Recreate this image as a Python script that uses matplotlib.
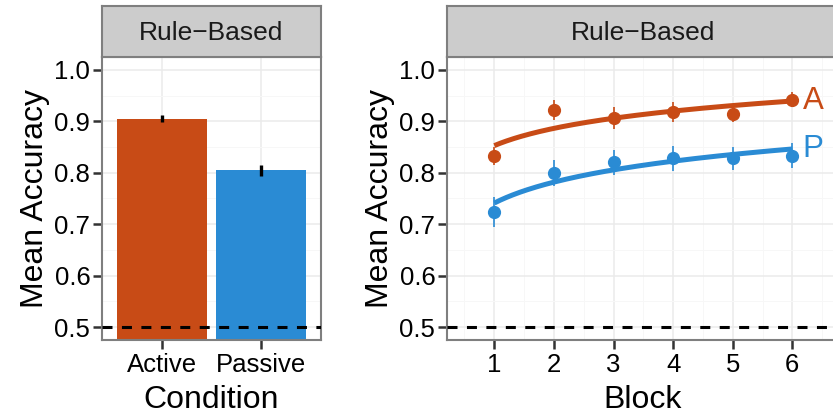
import numpy as np
import matplotlib
matplotlib.use('Agg')
import matplotlib.pyplot as plt
from matplotlib.ticker import FixedLocator, FormatStrFormatter

plt.rcParams['font.family'] = ['Liberation Sans', 'DejaVu Sans']
plt.rcParams['lines.scale_dashes'] = False

# ---------------- data ----------------
conditions = ['Active', 'Passive']
cond_mean = [0.905, 0.805]
cond_se = [0.007, 0.011]

blocks = [1, 2, 3, 4, 5, 6]
active_acc = [0.833, 0.922, 0.906, 0.918, 0.914, 0.942]
active_se = [0.017, 0.019, 0.021, 0.020, 0.015, 0.015]
passive_acc = [0.724, 0.800, 0.820, 0.828, 0.828, 0.833]
passive_se = [0.029, 0.025, 0.025, 0.025, 0.022, 0.024]
series_labels = ['A', 'P']

strip_title = 'Rule\u2212Based'
y_ticks = [0.5, 0.6, 0.7, 0.8, 0.9, 1.0]
y_minor = [0.55, 0.65, 0.75, 0.85, 0.95]
chance = 0.5

# ---------------- style ----------------
ORANGE = '#C84B16'
BLUE = '#2A8BD4'
BORDER = '#7F7F7F'
GRID_MAJ = '#EBEBEB'
GRID_MIN = '#F7F7F7'
TICK_SIZE = 18.5
STRIP_SIZE = 19
TITLE_SIZE = 23

W, H = 833, 415
fig = plt.figure(figsize=(W / 100, H / 100), dpi=100)


def px_axes(x0, y0, x1, y1):
    return fig.add_axes([x0 / W, 1 - y1 / H, (x1 - x0) / W, (y1 - y0) / H])


def style_panel(ax):
    for s in ax.spines.values():
        s.set_color(BORDER)
        s.set_linewidth(1.5)
    ax.set_ylim(0.475, 1.025)
    ax.yaxis.set_major_locator(FixedLocator(y_ticks))
    ax.yaxis.set_minor_locator(FixedLocator(y_minor))
    ax.yaxis.set_major_formatter(FormatStrFormatter('%.1f'))
    ax.tick_params(which='major', length=6.2, width=1.8, color='#333333',
                   labelsize=TICK_SIZE, labelcolor='black', pad=2.2)
    ax.tick_params(axis='x', which='major', pad=3.5)
    ax.tick_params(which='minor', length=0)
    ax.grid(which='major', color=GRID_MAJ, lw=1.1)
    ax.grid(which='minor', color=GRID_MIN, lw=0.7)
    ax.set_axisbelow(True)
    ax.axhline(chance, color='black', lw=2.2, dashes=(7.2, 6.8), zorder=5)
    ax.set_ylabel('Mean Accuracy', fontsize=TITLE_SIZE, labelpad=3)


def strip(x0, x1):
    s = px_axes(x0, 6, x1, 57)
    s.set_facecolor('#CCCCCC')
    for sp in s.spines.values():
        sp.set_color(BORDER)
        sp.set_linewidth(1.5)
    s.set_xticks([])
    s.set_yticks([])
    s.text(0.5, 0.47, strip_title, transform=s.transAxes, ha='center',
           va='center', fontsize=STRIP_SIZE, color='#1A1A1A')
    return s


# ---------------- left: bar panel ----------------
ax1 = px_axes(102, 57, 321, 340)
xpos = np.arange(1, len(conditions) + 1)
ax1.bar(xpos, cond_mean, width=0.9, color=[ORANGE, BLUE], zorder=2)
ax1.errorbar(xpos, cond_mean, yerr=cond_se, fmt='none', ecolor='black',
             elinewidth=2.4, capsize=0, zorder=3)
ax1.set_xlim(0.4, 2.6)
ax1.set_xticks(xpos, conditions)
style_panel(ax1)
ax1.set_xlabel('Condition', fontsize=TITLE_SIZE, labelpad=5.5)
strip(102, 321)

# ---------------- right: block panel ----------------
x_left, x_right = 447, 839
px1, px_unit = 494.3, 59.6
ax2 = px_axes(x_left, 57, x_right, 340)
ax2.set_xlim(1 - (px1 - x_left) / px_unit, 1 + (x_right - px1) / px_unit)
ax2.set_xticks(blocks)
ax2.xaxis.set_minor_locator(FixedLocator([b - 0.5 for b in blocks] + [blocks[-1] + 0.5]))
style_panel(ax2)
ax2.set_xlabel('Block', fontsize=TITLE_SIZE, labelpad=5.5)

xs = np.linspace(blocks[0], blocks[-1], 200)
for acc, se, col, lab in [(active_acc, active_se, ORANGE, series_labels[0]),
                          (passive_acc, passive_se, BLUE, series_labels[1])]:
    coef = np.polyfit(np.log(blocks), acc, 1)
    ax2.plot(xs, np.polyval(coef, np.log(xs)), color=col, lw=3.6, zorder=3,
             solid_capstyle='butt')
    ax2.errorbar(blocks, acc, yerr=se, fmt='o', color=col, ms=8.5,
                 elinewidth=1.2, capsize=0, zorder=4)
    yend = np.polyval(coef, np.log(blocks[-1]))
    ax2.text(blocks[-1] + 0.35, yend, lab, color=col, fontsize=22.5,
             ha='center', va='center')
strip(x_left, x_right)

fig.savefig('out.png', dpi=100)
